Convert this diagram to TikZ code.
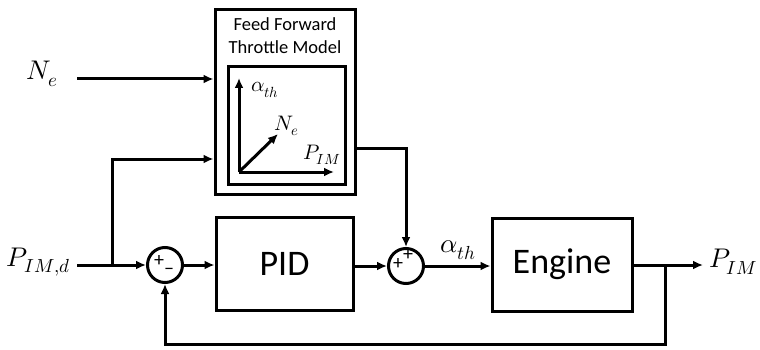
\documentclass[tikz,border=0pt]{standalone}
\usepackage{fontspec}
\usepackage{unicode-math}
\setmainfont{Carlito}
\setmathfont{Latin Modern Math}
\usetikzlibrary{arrows.meta}
\begin{document}
\begin{tikzpicture}[x=1pt,y=-1pt,
  line width=3pt,
  arr/.style={-{Latex[length=10pt,width=9pt]}},
  blk/.style={draw,rectangle,inner sep=0pt},
  sumnode/.style={draw,circle,minimum size=35pt,inner sep=0pt},
  biglab/.style={font=\fontsize{27}{30}\selectfont},
  smalllab/.style={font=\fontsize{21}{24}\selectfont},
  blktext/.style={font=\fontsize{36}{40}\selectfont},
  sign/.style={font=\fontsize{20}{22}\selectfont,inner sep=0pt}]
\useasboundingbox (0,0) rectangle (760,350);
% blocks
\node[blk,minimum width=140pt,minimum height=184pt] (ff) at (285,102) {};
\node[blk,minimum width=117pt,minimum height=117pt] (inner) at (286.5,125.5) {};
\node[align=center,font=\fontsize{18.5}{23}\selectfont] (fftitle) at (285,36) {Feed Forward\\Throttle Model};
\node[blk,minimum width=137pt,minimum height=93pt,blktext] (pid) at (284.5,263.5) {PID};
\node[blk,minimum width=140pt,minimum height=93pt,blktext] (eng) at (562,264.5) {Engine};
\node[sumnode] (s1) at (165,265) {};
\node[sumnode] (s2) at (406,266) {};
% signs
\node[sign] (s1p) at (159,261) {+};
\node[sign] (s1m) at (169,271) {\textendash};
\node[sign] (s2a) at (408,255) {+};
\node[sign] (s2b) at (398,264) {+};
% axes inside model
\coordinate (o) at (239,172);
\coordinate (ay) at (239,78);
\coordinate (ax) at (334,172);
\coordinate (ad) at (278,134);
\draw[arr] (o) -- (ay);
\draw[arr] (o) -- (ax);
\draw[arr] (o) -- (ad);
\node[smalllab] (lay) at (265,90) {$\alpha_{th}$};
\node[smalllab] (lad) at (287,126) {$N_e$};
\node[smalllab] (lax) at (322,155) {$P_{IM}$};
% inputs
\node[biglab] (lne) at (42,74) {$N_e$};
\node[biglab,anchor=east,inner sep=0pt] (lpd) at (72,262) {$P_{IM,d}$};
\coordinate (ne) at (77,79);
\coordinate (pin) at (77,265);
\coordinate (br) at (112,265);
\coordinate (k2) at (0,159);
\draw[arr] (ne) -- (ne -| ff.west);
\draw[arr] (pin) -- (s1.west);
\draw[arr] (br) |- (k2 -| ff.west);
% forward path
\draw[arr] (s1.east) -- (s1.east -| pid.west);
\draw[arr] (pid.east |- s2.west) -- (s2.west);
\draw[arr] (s2.east) -- (s2.east -| eng.west);
\node[biglab] (lath) at (458,250) {$\alpha_{th}$};
\coordinate (k3) at (0,148);
\draw[arr] (k3 -| ff.east) -| (s2.north);
% output
\coordinate (out) at (703,265);
\coordinate (fb) at (665,265);
\coordinate (k4) at (0,344);
\draw[arr] (eng.east |- out) -- (out);
\node[biglab] (lpim) at (733,262) {$P_{IM}$};
\draw[arr] (fb) |- (k4 -| s1) -- (s1.south);
\end{tikzpicture}
\end{document}
